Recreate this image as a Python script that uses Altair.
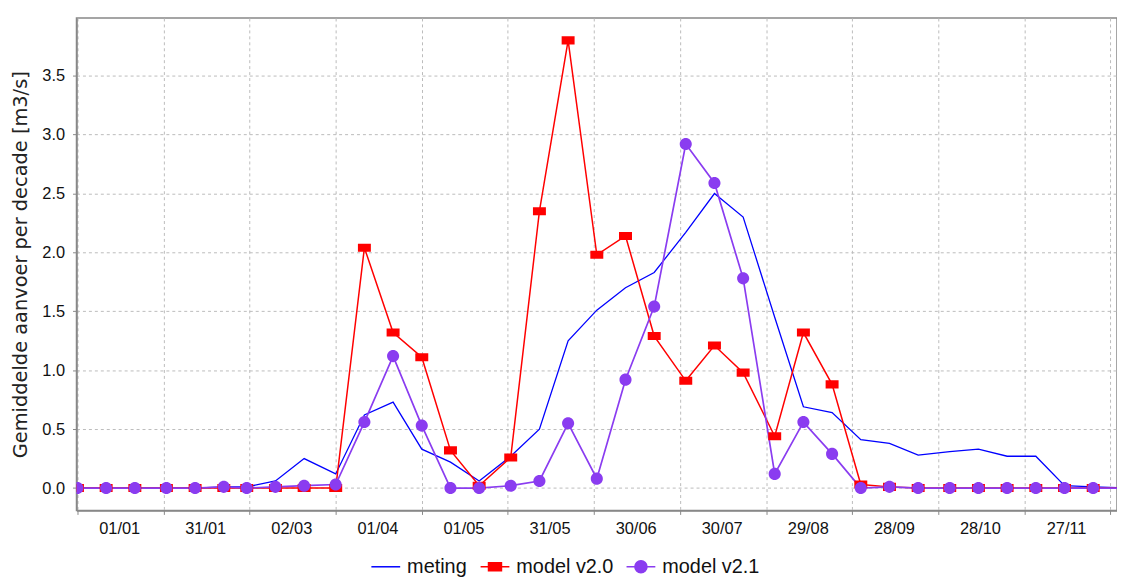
import altair as alt
import pandas as pd

# decade start dates (10-daily values)
dates = ["2001-01-01", "2001-01-11", "2001-01-21", "2001-02-01", "2001-02-11", "2001-02-21",
         "2001-03-01", "2001-03-11", "2001-03-21", "2001-04-01", "2001-04-11", "2001-04-21",
         "2001-05-01", "2001-05-11", "2001-05-21", "2001-06-01", "2001-06-11", "2001-06-21",
         "2001-07-01", "2001-07-11", "2001-07-21", "2001-08-01", "2001-08-11", "2001-08-21",
         "2001-09-01", "2001-09-11", "2001-09-21", "2001-10-01", "2001-10-11", "2001-10-21",
         "2001-11-01", "2001-11-11", "2001-11-21", "2001-12-01", "2001-12-11", "2001-12-21",
         "2002-01-01"]

meting = [0.00, 0.00, 0.00, 0.00, 0.00, 0.01,
          0.01, 0.06, 0.25, 0.12, 0.62, 0.73,
          0.33, 0.22, 0.06, 0.27, 0.50, 1.25,
          1.51, 1.70, 1.83, 2.17, 2.50, 2.30,
          1.45, 0.69, 0.64, 0.41, 0.38, 0.28,
          0.31, 0.33, 0.27, 0.27, 0.02, 0.01,
          0.00]

model_v20 = [0.00, 0.00, 0.00, 0.00, 0.00, 0.00,
             0.00, 0.00, 0.00, 0.00, 2.04, 1.32,
             1.11, 0.32, 0.02, 0.26, 2.35, 3.80,
             1.98, 2.14, 1.29, 0.91, 1.21, 0.98,
             0.44, 1.32, 0.88, 0.03, 0.01, 0.00,
             0.00, 0.00, 0.00, 0.00, 0.00, 0.00,
             0.00]

model_v21 = [0.00, 0.00, 0.00, 0.00, 0.00, 0.01,
             0.00, 0.01, 0.02, 0.03, 0.56, 1.12,
             0.53, 0.00, 0.00, 0.02, 0.06, 0.55,
             0.08, 0.92, 1.54, 2.92, 2.59, 1.78,
             0.12, 0.56, 0.29, 0.00, 0.01, 0.00,
             0.00, 0.00, 0.00, 0.00, 0.00, 0.00,
             0.00]

series_names = ["meting", "model v2.0", "model v2.1"]
series_colors = ["#0000FF", "#FF0000", "#8A3CF0"]
series_widths = [1.3, 1.7, 1.4]
# legend/marker glyphs: line, line + rectangle, line + dot
series_shapes = [
    "M-1,0H1",
    "M-1,0H1M-0.45,-0.28H0.45V0.28H-0.45Z",
    "M-1,0H1M0.42,0A0.42,0.42,0,1,1,-0.42,0A0.42,0.42,0,1,1,0.42,0Z",
]

tick_dates = [(2001, 1, 1), (2001, 1, 31), (2001, 3, 2), (2001, 4, 1), (2001, 5, 1),
              (2001, 5, 31), (2001, 6, 30), (2001, 7, 30), (2001, 8, 29), (2001, 9, 28),
              (2001, 10, 28), (2001, 11, 27), (2001, 12, 27)]
y_ticks = [0.0, 0.5, 1.0, 1.5, 2.0, 2.5, 3.0, 3.5]

rows = []
for name, vals in zip(series_names, [meting, model_v20, model_v21]):
    for d, v in zip(dates, vals):
        rows.append({"series": name, "date": d, "value": v})
df = pd.DataFrame(rows)

FONT = "Liberation Sans"
AX = dict(labelFont=FONT, labelFontSize=16.5, labelColor="#111111",
          domainColor="#888888", domainWidth=1.5, tickColor="#888888", tickSize=4,
          gridColor="#BBBBBB", gridDash=[3, 3], gridWidth=1)

x_enc = alt.X(
    "date:T",
    scale=alt.Scale(type="utc",
                    domain=[alt.DateTime(year=2000, month=12, date=31, hours=16, utc=True),
                            alt.DateTime(year=2001, month=12, date=29, hours=7, utc=True)]),
    axis=alt.Axis(values=[alt.DateTime(year=y, month=m, date=d, utc=True) for y, m, d in tick_dates],
                  format="%d/%m", title=None, labelOffset=42, labelFlush=False,
                  labelOverlap=False, labelPadding=6,
                  labelExpr="utcmonth(datum.value) == 11 && utcdate(datum.value) > 20 ? '' : datum.label",
                  **AX),
)
y_enc = alt.Y(
    "value:Q",
    scale=alt.Scale(domain=[-0.19, 3.99], nice=False, zero=False),
    axis=alt.Axis(values=y_ticks, format=".1f", title="Gemiddelde aanvoer per decade [m3/s]",
                  titleFont="DejaVu Sans", titleFontSize=19.5, titleFontWeight="normal",
                  titleColor="#222222", titlePadding=11, labelPadding=8, **AX),
)

color_scale = alt.Scale(domain=series_names, range=series_colors)
shape_scale = alt.Scale(domain=series_names, range=series_shapes)

legend = alt.Legend(title=None, orient="none", legendX=296, legendY=537,
                    direction="horizontal", columns=3, symbolSize=841,
                    labelFont=FONT, labelFontSize=20, labelColor="#111111",
                    labelOffset=6, columnPadding=10, symbolStrokeWidth=1.5)

lines = alt.Chart().mark_line(clip=True).encode(
    x=x_enc,
    y=y_enc,
    color=alt.Color("series:N", scale=color_scale, legend=None),
    strokeWidth=alt.StrokeWidth("series:N", scale=alt.Scale(domain=series_names, range=series_widths),
                                legend=None),
    order=alt.Order("date:T"),
)

points = alt.Chart().mark_point(filled=True, size=841, opacity=1, strokeWidth=0, clip=True).encode(
    x=x_enc,
    y=y_enc,
    color=alt.Color("series:N", scale=color_scale, legend=None),
    shape=alt.Shape("series:N", scale=shape_scale, legend=None),
).transform_filter(alt.datum.series != "meting")

# layer that only supplies the legend (line + marker glyphs); its points lie past the
# right edge of the plot and are clipped away
legend_layer = alt.Chart().mark_point(filled=True, size=841, opacity=1, strokeWidth=1.5, clip=True).encode(
    x=x_enc,
    y=y_enc,
    color=alt.Color("series:N", scale=color_scale, legend=legend),
    stroke=alt.Stroke("series:N", scale=color_scale, legend=legend),
    shape=alt.Shape("series:N", scale=shape_scale, legend=legend),
).transform_filter(alt.datum.date == "2002-01-01")

chart = alt.layer(lines, points, legend_layer, data=df).resolve_legend(
    color="independent", shape="independent", stroke="independent", strokeWidth="independent"
).properties(
    width=1048, height=496,
    background="white",
    autosize=alt.AutoSizeParams(type="none"),
    padding={"left": 69, "top": 8, "right": 0, "bottom": 67},
).configure_view(
    stroke="#888888", strokeWidth=1.5
)

chart.save("out.html", embed_options={"renderer": "svg", "actions": False})
